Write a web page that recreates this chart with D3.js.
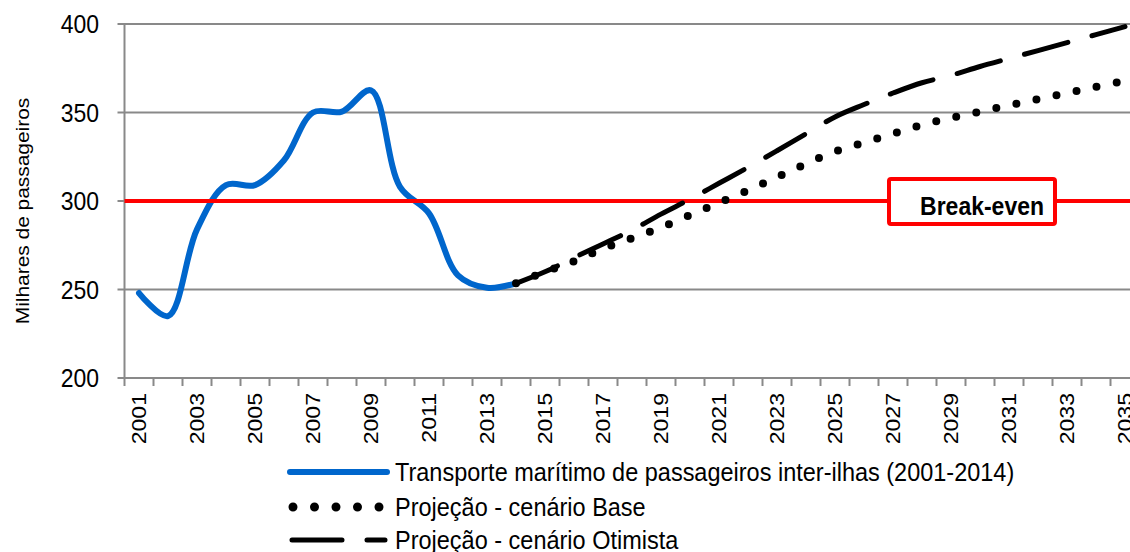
<!doctype html>
<html>
<head>
<meta charset="utf-8">
<script src="https://d3js.org/d3.v7.min.js"></script>
<style>
    body { margin: 0; background: #fff; }
    text { font-family: "Liberation Sans", Arial, sans-serif; fill: #000; }
</style>
</head>
<body>
<svg width="1130" height="552"></svg>
<script>
    // data
    var years = [2001, 2002, 2003, 2004, 2005, 2006, 2007, 2008, 2009, 2010, 2011, 2012,
                 2013, 2014, 2015, 2016, 2017, 2018, 2019, 2020, 2021, 2022, 2023, 2024,
                 2025, 2026, 2027, 2028, 2029, 2030, 2031, 2032, 2033, 2034, 2035];
    var histYears = [2001, 2002, 2003, 2004, 2005, 2006, 2007, 2008, 2009, 2010, 2011, 2012, 2013, 2014];
    var histValues = [248, 235, 284, 309, 309, 323, 350, 350.5, 362.5, 308, 293, 258, 251, 253.5];
    var projYears = [2014, 2015, 2016, 2017, 2018, 2019, 2020, 2021, 2022, 2023, 2024,
                     2025, 2026, 2027, 2028, 2029, 2030, 2031, 2032, 2033, 2034, 2035];
    var baseValues = [253.5, 260, 266, 273, 279, 285, 292, 299, 306, 313.5, 321,
                      328, 333, 338, 343, 347, 350.5, 354, 357.5, 361, 364.5, 368];
    var optValues = [253.5, 260, 268, 275.7, 283.6, 292.6, 301, 310, 319, 328.4, 338,
                     347.5, 354.5, 361, 366.8, 371, 376, 380.5, 385, 389.5, 394, 398.5];
    var yTicks = [200, 250, 300, 350, 400];
    var breakEven = 300;
    var labelYears = years.filter(function(d, i) { return i % 2 == 0; });

    var svg = d3.select("svg"),
        plotLeft = 124.5,
        plotTop = 24,
        plotBottom = 378,
        step = 29;

    var x = d3.scaleBand().domain(years).range([plotLeft, plotLeft + years.length * step]).padding(0),
        y = d3.scaleLinear().domain([200, 400]).range([plotBottom, plotTop]);
    var cx = function(d) { return x(d) + x.bandwidth() / 2; };

    var grey = "#898989";

    // gridlines
    svg.append("g").selectAll("line")
       .data(yTicks.filter(function(d) { return d != 200; }))
       .enter().append("line")
       .attr("x1", plotLeft - 7).attr("x2", 1130)
       .attr("y1", function(d) { return y(d); }).attr("y2", function(d) { return y(d); })
       .attr("stroke", grey).attr("stroke-width", 2);

    // axes
    svg.append("line").attr("x1", plotLeft).attr("x2", plotLeft).attr("y1", plotTop).attr("y2", plotBottom)
       .attr("stroke", grey).attr("stroke-width", 2);
    svg.append("line").attr("x1", plotLeft - 7).attr("x2", 1130).attr("y1", plotBottom).attr("y2", plotBottom)
       .attr("stroke", grey).attr("stroke-width", 2);
    svg.append("g").selectAll("text")
       .data(yTicks)
       .enter().append("text")
       .attr("transform", function(d) { return "translate(99," + y(d) + ") scale(1,1.12)"; })
       .attr("dy", "0.35em")
       .attr("text-anchor", "end")
       .style("font-size", "23px")
       .text(function(d) { return d; });

    // x ticks at category boundaries
    svg.append("g").selectAll("line")
       .data(years)
       .enter().append("line")
       .attr("x1", function(d) { return x(d); }).attr("x2", function(d) { return x(d); })
       .attr("y1", plotBottom).attr("y2", plotBottom + 8)
       .attr("stroke", grey).attr("stroke-width", 2);
    svg.append("g").selectAll("text")
       .data(labelYears)
       .enter().append("text")
       .attr("transform", function(d) { return "translate(" + cx(d) + "," + (plotBottom + 15) + ") rotate(-90) scale(1.1,1)"; })
       .attr("dy", "0.35em")
       .attr("text-anchor", "end")
       .style("font-size", "21px")
       .text(function(d) { return d; });

    // y title
    svg.append("text")
       .attr("transform", "translate(22," + ((plotTop + plotBottom) / 2 + 10) + ") rotate(-90) scale(1.1,1)")
       .attr("dy", "0.35em")
       .attr("text-anchor", "middle")
       .style("font-size", "19px")
       .text("Milhares de passageiros");

    var line = d3.line()
                 .x(function(d) { return cx(d[0]); })
                 .y(function(d) { return y(d[1]); })
                 .curve(d3.curveCatmullRom.alpha(0.5));

    // historical series
    svg.append("path")
       .datum(d3.zip(histYears, histValues))
       .attr("d", line)
       .attr("fill", "none").attr("stroke", "#0066cc").attr("stroke-width", 6)
       .attr("stroke-linecap", "round").attr("stroke-linejoin", "round");

    // break-even line
    svg.append("line").attr("x1", plotLeft).attr("x2", 1130)
       .attr("y1", y(breakEven)).attr("y2", y(breakEven))
       .attr("stroke", "#ff0000").attr("stroke-width", 4);

    // projections
    svg.append("path")
       .datum(d3.zip(projYears, optValues))
       .attr("d", line)
       .attr("fill", "none").attr("stroke", "#000").attr("stroke-width", 5)
       .attr("stroke-linecap", "round").attr("stroke-dasharray", "45,25");
    svg.append("path")
       .datum(d3.zip(projYears, baseValues))
       .attr("d", line)
       .attr("fill", "none").attr("stroke", "#000").attr("stroke-width", 8)
       .attr("stroke-linecap", "round").attr("stroke-dasharray", "0,20.5");

    // break-even label box
    var boxY = y(breakEven);
    svg.append("rect")
       .attr("x", 889).attr("y", boxY - 22).attr("width", 166).attr("height", 45)
       .attr("rx", 2)
       .attr("fill", "#fff").attr("stroke", "#ff0000").attr("stroke-width", 4);
    svg.append("text")
       .attr("transform", "translate(1044," + (boxY + 14) + ") scale(1,1.1)")
       .attr("text-anchor", "end")
       .style("font-size", "23px").style("font-weight", "bold")
       .text("Break-even");

    // legend
    var legendItems = ["Transporte marítimo de passageiros inter-ilhas (2001-2014)",
                       "Projeção - cenário Base",
                       "Projeção - cenário Otimista"];
    var legendY = [472, 507, 540];
    var lg = svg.append("g");
    lg.append("line").attr("x1", 290).attr("x2", 387).attr("y1", legendY[0]).attr("y2", legendY[0])
      .attr("stroke", "#0066cc").attr("stroke-width", 6).attr("stroke-linecap", "round");
    lg.append("line").attr("x1", 293).attr("x2", 380).attr("y1", legendY[1]).attr("y2", legendY[1])
      .attr("stroke", "#000").attr("stroke-width", 9).attr("stroke-linecap", "round")
      .attr("stroke-dasharray", "0,21.5");
    lg.append("line").attr("x1", 292).attr("x2", 385).attr("y1", legendY[2]).attr("y2", legendY[2])
      .attr("stroke", "#000").attr("stroke-width", 5).attr("stroke-linecap", "round")
      .attr("stroke-dasharray", "50,25");
    lg.selectAll("text")
      .data(legendItems)
      .enter().append("text")
      .attr("transform", function(d, i) { return "translate(395," + legendY[i] + ") scale(1,1.12)"; })
      .attr("dy", "0.35em")
      .style("font-size", "23.5px")
      .text(function(d) { return d; });
</script>
</body>
</html>
